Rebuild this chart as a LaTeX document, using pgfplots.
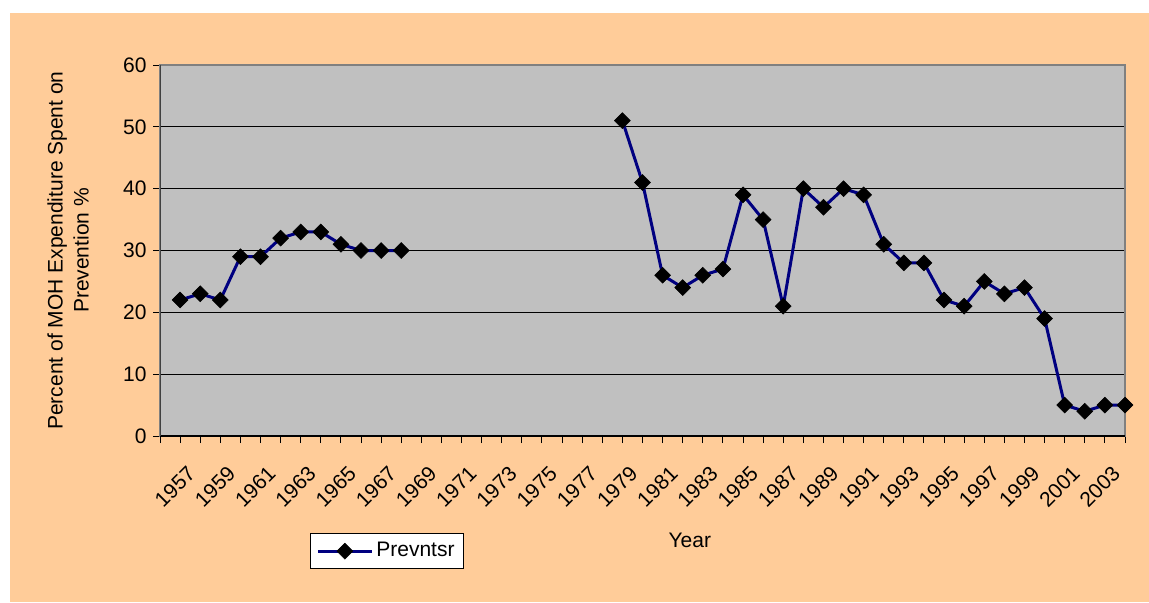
\documentclass[border=0pt]{standalone}
\usepackage{pgfplots}
\pgfplotsset{compat=1.18}
\usepackage{fontspec}
\setmainfont{Liberation Sans}
\definecolor{peach}{HTML}{FFCC99}
\definecolor{plotgray}{HTML}{C0C0C0}
\definecolor{navyline}{HTML}{000080}
\definecolor{framegray}{HTML}{808080}
\begin{document}
\begin{tikzpicture}
\useasboundingbox (-80pt,-83pt) rectangle (494.5pt,218pt);
\fill[peach] (-75pt,-83pt) rectangle (494.5pt,211.5pt);
\begin{axis}[
  at={(0,0)}, anchor=south west,
  scale only axis, width=482.5pt, height=185.5pt,
  xmin=1956, xmax=2004, ymin=0, ymax=60,
  ytick={0,10,...,60},
  xtick={1957,1959,...,2003},
  minor xtick={1956,1958,...,2004},
  tick align=outside,
  major tick length=3.5pt, minor tick length=3.5pt,
  every tick/.style={black, line width=0.5pt},
  xtick pos=bottom, ytick pos=left,
  ymajorgrids, major grid style={black, line width=0.5pt},
  axis background/.style={fill=plotgray},
  axis line style={draw=framegray, line width=1pt},
  /pgf/number format/assume math mode=true,
  /pgf/number format/1000 sep={},
  tick label style={font=\fontsize{10.5}{12.6}\selectfont},
  xticklabel style={rotate=45, anchor=east, inner sep=0pt, xshift=-5.4pt, yshift=-13.6pt},
  yticklabel style={inner sep=1pt, xshift=-2pt},
  xlabel={Year},
  xlabel style={at={(axis description cs:0.549,-0.28)}, anchor=center, font=\fontsize{10.5}{12.6}\selectfont},
  ylabel={Percent of MOH Expenditure Spent on\\Prevention \%},
  ylabel style={at={(axis description cs:-0.0953,0.5)}, anchor=center, align=center, font=\fontsize{10.5}{13}\selectfont},
  unbounded coords=jump,
  legend style={at={(axis description cs:0.1554,-0.2615)}, anchor=north west, draw=black, fill=white, font=\fontsize{10.5}{12.6}\selectfont, inner xsep=3pt, inner ysep=3pt, nodes={inner sep=1.5pt}},
  legend image code/.code={\draw[mark repeat=2,mark phase=2,#1] plot coordinates {(0pt,0pt) (13.5pt,0pt) (27pt,0pt)};},
]
\addplot[navyline, line width=1.5pt, mark=square*, mark size=2.8pt, mark options={solid, fill=black, draw=black, rotate=45, line width=0.3pt}]
coordinates {
(1957,22) (1958,23) (1959,22) (1960,29) (1961,29) (1962,32) (1963,33) (1964,33)
(1965,31) (1966,30) (1967,30) (1968,30) (1969,nan)
(1979,51) (1980,41) (1981,26) (1982,24) (1983,26) (1984,27) (1985,39) (1986,35)
(1987,21) (1988,40) (1989,37) (1990,40) (1991,39) (1992,31) (1993,28) (1994,28)
(1995,22) (1996,21) (1997,25) (1998,23) (1999,24) (2000,19) (2001,5) (2002,4)
(2003,5) (2004,5)
};
\addlegendentry{Prevntsr}
\draw[black, line width=0.6pt] (rel axis cs:0,0) -- (rel axis cs:1,0);
\draw[black!75, line width=0.8pt] (rel axis cs:0,0) -- (rel axis cs:0,1);
\end{axis}
\end{tikzpicture}
\end{document}
